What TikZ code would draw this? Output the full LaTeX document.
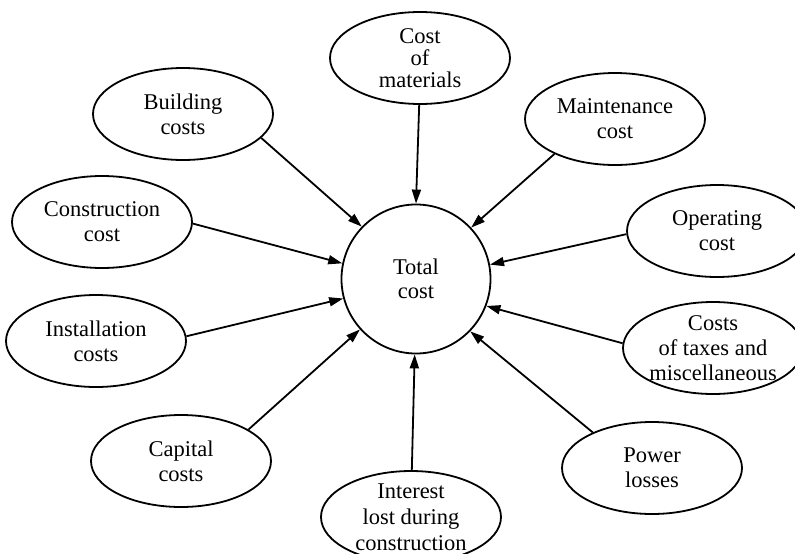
\documentclass[tikz,border=0pt]{standalone}
\usepackage{fontspec}
\setmainfont{Liberation Serif}
\usetikzlibrary{arrows.meta,shapes.geometric}
\begin{document}
\begin{tikzpicture}[x=1pt,y=-1pt,
  bub/.style={draw, ellipse, line width=1.8pt, minimum width=180pt, minimum height=92pt, inner sep=0pt},
  lbl/.style={align=center, font=\fontsize{22.5}{25}\selectfont, inner sep=0pt},
  arr/.style={line width=1.8pt, -{Triangle[length=14pt,width=9pt]}}]
\useasboundingbox (0,0) rectangle (795,554);
\clip (0,0) rectangle (795,554);
\node[bub, label={[lbl,font=\fontsize{22.5}{22}\selectfont]center:{Cost\\of\\materials}}] (mat) at (420,58) {};
\node[bub, label={[lbl]center:{Building\\costs}}] (bld) at (183,114) {};
\node[bub, label={[lbl]center:{Maintenance\\cost}}] (mnt) at (615,119) {};
\node[bub, label={[lbl]center:{Construction\\cost}}] (con) at (102,222) {};
\node[bub, label={[lbl]center:{Operating\\cost}}] (opr) at (717,231) {};
\node[bub, label={[lbl]center:{Installation\\costs}}] (ins) at (96,341) {};
\node[bub, label={[lbl]center:{Costs\\of taxes and\\miscellaneous}}] (tax) at (713,348) {};
\node[bub, label={[lbl]center:{Capital\\costs}}] (cap) at (181,461) {};
\node[bub, label={[lbl]center:{Power\\losses}}] (pow) at (652,468) {};
\node[bub, label={[lbl,font=\fontsize{22.5}{26}\selectfont]center:{Interest\\lost during\\construction}}] (int) at (411,517) {};
\node[circle, draw, line width=1.8pt, minimum size=149pt, inner sep=0pt, align=center, font=\fontsize{22.5}{24}\selectfont] (tot) at (416,279) {Total\\cost};
\draw[arr] (mat.-91) -- (tot.90);
\draw[arr] (bld.-17) -- (tot.136);
\draw[arr] (mnt.210) -- (tot.43);
\draw[arr] (opr.182) -- (tot.11);
\draw[arr] (tax.177) -- (tot.-21);
\draw[arr] (pow.149) -- (tot.-44);
\draw[arr] (int.89) -- (tot.-91);
\draw[arr] (cap.25) -- (tot.-138);
\draw[arr] (ins.3) -- (tot.195);
\draw[arr] (con.-1) -- (tot.168);
\end{tikzpicture}
\end{document}
